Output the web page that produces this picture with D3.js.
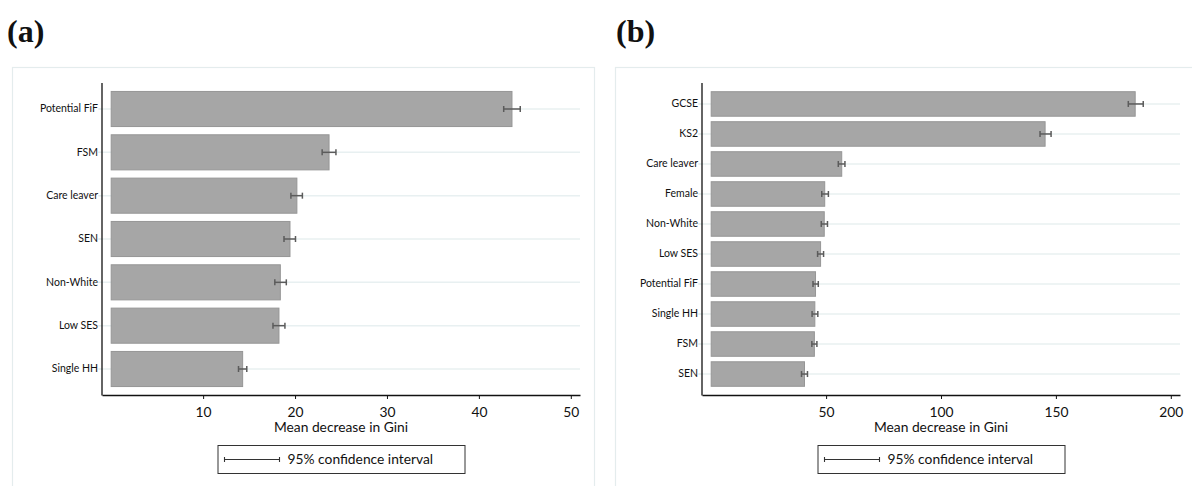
<!DOCTYPE html>
<html><head><meta charset="utf-8">
<script src="https://cdn.jsdelivr.net/npm/d3@7"></script>
<style>
html,body{margin:0;padding:0;background:#fff;}
svg{display:block;}
</style></head>
<body>
<svg id="chart" width="1192" height="486"></svg>
<script>
// ---- Data ----
const catsA = ["Potential FiF","FSM","Care leaver","SEN","Non-White","Low SES","Single HH"];
const valsA = [43.6, 23.7, 20.2, 19.45, 18.4, 18.25, 14.3];
const lowA  = [42.7, 22.95, 19.55, 18.8, 17.8, 17.6, 13.85];
const highA = [44.5, 24.45, 20.8, 20.05, 19.05, 18.9, 14.75];
const ticksA = [10, 20, 30, 40, 50];

const catsB = ["GCSE","KS2","Care leaver","Female","Non-White","Low SES","Potential FiF","Single HH","FSM","SEN"];
const valsB = [184.5, 145.3, 56.8, 49.4, 49.2, 47.6, 45.4, 45.1, 44.9, 40.6];
const lowB  = [181.5, 143.1, 55.3, 48.1, 47.9, 46.3, 44.3, 43.9, 43.8, 39.3];
const highB = [188.0, 147.9, 58.2, 51.0, 50.6, 48.9, 46.6, 46.4, 46.0, 41.9];
const ticksB = [50, 100, 150, 200];

const panelTitles = ["(a)", "(b)"];
const axisTitle = "Mean decrease in Gini";
const legendText = "95% confidence interval";

const svg = d3.select("#chart");
const FONT = "Lato, 'Open Sans', sans-serif";
const FS = 13.8;

function drawPanel(cfg) {
  const g = svg.append("g");
  // panel frame
  g.append("rect").attr("x", cfg.frameX + 0.5).attr("y", 67.5)
    .attr("width", 582).attr("height", 440)
    .attr("fill", "none").attr("stroke", "#e4eced").attr("stroke-width", 1.2);
  // title
  g.append("text").attr("x", cfg.titleX).attr("y", 42)
    .attr("font-family", "'Liberation Serif', 'Times New Roman', serif")
    .attr("font-weight", "bold").attr("font-size", 32).attr("fill", "#111")
    .text(cfg.title);

  const x = d3.scaleLinear().domain(cfg.domain).range([cfg.x0, cfg.x1]);
  const y = d3.scaleBand().domain(cfg.cats).range([83, 395])
    .paddingInner(cfg.pIn).paddingOuter(cfg.pOut);
  const bw = y.bandwidth();

  // gridlines
  g.append("g").selectAll("line").data(cfg.cats).join("line")
    .attr("x1", cfg.x0 - 4).attr("x2", cfg.x1)
    .attr("y1", d => y(d) + bw / 2).attr("y2", d => y(d) + bw / 2)
    .attr("stroke", "#e8f0f1").attr("stroke-width", 1.5);

  // bars
  g.append("g").selectAll("rect").data(cfg.cats).join("rect")
    .attr("x", x(0)).attr("y", d => y(d))
    .attr("width", (d, i) => x(cfg.vals[i]) - x(0))
    .attr("height", bw)
    .attr("fill", "#a6a6a6").attr("stroke", "#969696").attr("stroke-width", 1);

  // error bars
  const eb = g.append("g").attr("stroke", "#5b5b5b").attr("stroke-width", 1.5);
  cfg.cats.forEach((c, i) => {
    const cy = y(c) + bw / 2;
    eb.append("line").attr("x1", x(cfg.low[i])).attr("x2", x(cfg.high[i])).attr("y1", cy).attr("y2", cy);
    eb.append("line").attr("x1", x(cfg.low[i])).attr("x2", x(cfg.low[i])).attr("y1", cy - 3).attr("y2", cy + 3);
    eb.append("line").attr("x1", x(cfg.high[i])).attr("x2", x(cfg.high[i])).attr("y1", cy - 3).attr("y2", cy + 3);
  });

  // y axis
  const ya = g.append("g").attr("transform", `translate(${cfg.x0},0)`)
    .call(d3.axisLeft(y).tickSize(3).tickPadding(1).tickSizeOuter(0));
  ya.select(".domain").remove();
  ya.selectAll(".tick line").attr("stroke", "#e3ecec").attr("stroke-width", 1.2);
  ya.selectAll(".tick text").attr("font-family", FONT).attr("font-size", 10.5).attr("fill", "#111");
  g.append("line").attr("x1", cfg.x0).attr("x2", cfg.x0).attr("y1", 83).attr("y2", 395.5)
    .attr("stroke", "#111").attr("stroke-width", 1.3);

  // x axis
  const xa = g.append("g").attr("transform", "translate(0,395)")
    .call(d3.axisBottom(x).tickValues(cfg.ticks).tickSize(4).tickPadding(8).tickSizeOuter(0));
  xa.select(".domain").attr("stroke", "#111").attr("stroke-width", 1.3);
  xa.selectAll(".tick line").attr("stroke", "#111");
  xa.selectAll(".tick text").attr("font-family", FONT).attr("font-size", FS).attr("fill", "#111");

  // axis title
  const cx = (cfg.x0 + cfg.x1) / 2;
  g.append("text").attr("x", cx).attr("y", 432).attr("text-anchor", "middle")
    .attr("font-family", FONT).attr("font-size", FS).attr("fill", "#111").text(axisTitle);

  // legend
  const lw = 247, lh = 28;
  const lx = cx - lw / 2, ly = 445;
  g.append("rect").attr("x", lx + 0.5).attr("y", ly + 0.5).attr("width", lw).attr("height", lh)
    .attr("fill", "#fff").attr("stroke", "#333").attr("stroke-width", 1);
  const lg = g.append("g").attr("stroke", "#333").attr("stroke-width", 1.1);
  const ly0 = ly + lh / 2 + 0.5;
  lg.append("line").attr("x1", lx + 7).attr("x2", lx + 62).attr("y1", ly0).attr("y2", ly0);
  lg.append("line").attr("x1", lx + 7).attr("x2", lx + 7).attr("y1", ly0 - 2.5).attr("y2", ly0 + 2.5);
  lg.append("line").attr("x1", lx + 62).attr("x2", lx + 62).attr("y1", ly0 - 2.5).attr("y2", ly0 + 2.5);
  g.append("text").attr("x", lx + 70).attr("y", ly0 + 4.8)
    .attr("font-family", FONT).attr("font-size", FS).attr("fill", "#111").text(legendText);
}

drawPanel({frameX: 12, titleX: 7, title: panelTitles[0], cats: catsA, vals: valsA, low: lowA, high: highA,
  ticks: ticksA, domain: [-1, 51], x0: 102, x1: 580, pIn: 0.19, pOut: 0.195});
drawPanel({frameX: 615, titleX: 616, title: panelTitles[1], cats: catsB, vals: valsB, low: lowB, high: highB,
  ticks: ticksB, domain: [-4, 204], x0: 702, x1: 1180, pIn: 0.183, pOut: 0.29});
</script>
</body></html>
